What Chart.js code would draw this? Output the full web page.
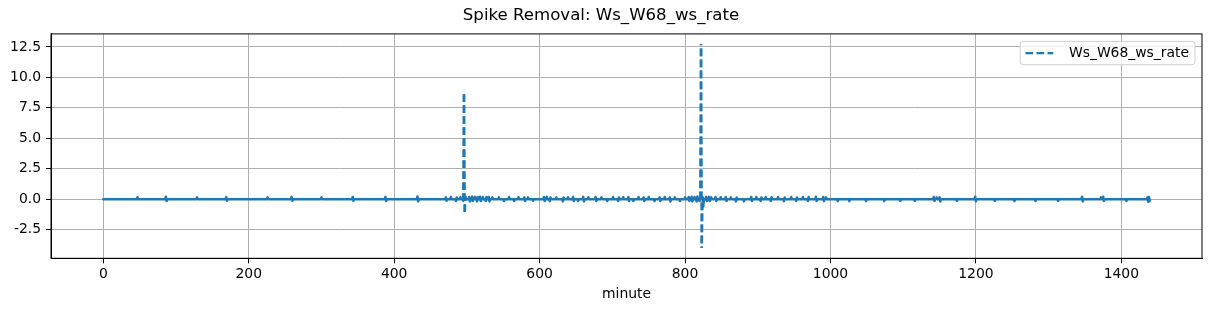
<!DOCTYPE html>
<html>
<head>
<meta charset="utf-8">
<script src="https://cdn.jsdelivr.net/npm/chart.js@4/dist/chart.umd.min.js"></script>
<style>
  html, body { margin: 0; padding: 0; background: #fff; }
  #wrap { width: 1211px; height: 311px; }
</style>
</head>
<body>
<div id="wrap"><canvas id="chart" width="1211" height="311"></canvas></div>
<script>
// series: one sample per minute, 0 except where listed
const seriesLabel = 'Ws_W68_ws_rate';
const minuteCount = 1440;

const blipMinutes = [
  47, 86, 87, 129, 169, 170, 226, 259, 260, 300, 343, 344, 388, 389, 432, 433,
  471, 472, 478, 485, 486, 491, 495, 496, 497, 498,
  503, 504, 507, 508, 511, 514, 515, 518, 519, 522, 526, 527, 530, 531, 535,
  544, 551, 558, 565, 571, 579, 580, 584, 591, 606, 607, 610, 614, 615, 623,
  632, 633, 639, 646, 647, 653, 660, 661, 667, 677, 678, 685, 693, 701, 708, 709,
  715, 722, 723, 729, 736, 743, 744, 750, 758, 765, 766, 772, 779, 780, 786, 793,
  800, 805, 806, 809, 810, 813, 816, 817, 820, 822, 823, 824, 825,
  829, 830, 833, 834, 836, 842, 843, 849, 856, 857, 863, 870, 871, 881, 891, 892,
  898, 904, 905, 911, 918, 919, 928, 936, 937, 946, 953, 954, 962, 969, 970,
  980, 981, 990, 991, 994,
  1010, 1026, 1049, 1074, 1096, 1116, 1142, 1143, 1146, 1150, 1151, 1174,
  1199, 1200, 1226, 1253, 1282, 1313, 1346, 1347, 1372, 1375, 1376, 1407,
  1436, 1437, 1438, 1439
];
const blipValues = [
  0.16, 0.2, -0.15, 0.15, 0.18, -0.13, 0.15, 0.19, -0.12, 0.15, 0.18, -0.12, 0.19, -0.15, 0.22, -0.18,
  0.15, -0.12, 0.18, -0.15, 0.15, 0.18, -0.15, 8.72, -1.15, 0.2,
  0.18, -0.18, 0.22, -0.15, 0.19, -0.18, 0.18, 0.2, -0.15, 0.18, -0.15, 0.19, 0.18, -0.18, 0.15,
  0.15, -0.15, 0.18, -0.15, 0.16, 0.15, -0.15, 0.15, -0.13, 0.18, -0.15, 0.19, -0.16, 0.15, 0.15,
  -0.18, 0.15, 0.16, 0.18, -0.15, -0.15, 0.19, -0.18, 0.16, 0.18, -0.15, 0.15, -0.15, 0.18, -0.15, 0.15,
  0.16, 0.18, -0.15, -0.15, 0.18, 0.15, -0.15, 0.18, -0.16, 0.15, -0.15, 0.18, 0.15, -0.18, 0.15, -0.15,
  0.15, 0.18, -0.15, 0.2, -0.18, 0.18, -0.18, 0.22, -0.15, 12.73, -4.01, 0.18, -0.6,
  0.18, -0.15, 0.19, -0.15, 0.15, 0.18, -0.15, 0.16, 0.18, -0.15, 0.15, -0.18, 0.15, -0.18, 0.18, -0.15,
  0.18, -0.15, 0.15, 0.18, -0.15, 0.16, 0.18, -0.16, 0.15, 0.18, -0.15, 0.15, 0.18, -0.15, 0.18,
  0.19, -0.15, 0.18, -0.16, 0.15,
  -0.16, -0.16, -0.16, -0.16, -0.14, -0.14, 0.18, -0.15, 0.15, 0.15, -0.18, -0.14,
  0.2, -0.18, -0.14, -0.16, -0.14, -0.14, 0.19, -0.18, 0.15, 0.2, -0.15, -0.14,
  0.15, -0.22, 0.18, -0.15
];

const xTicks = [0, 200, 400, 600, 800, 1000, 1200, 1400];
const yTicks = [-2.5, 0, 2.5, 5, 7.5, 10, 12.5];

const minutes = [];
const values = [];
for (let m = 0; m < minuteCount; m++) {
  minutes.push(m);
  const k = blipMinutes.indexOf(m);
  values.push(k >= 0 ? blipValues[k] : 0);
}

const lineColor = '#1f77b4';
const dashOn = 7.7, dashOff = 3.3, dashPeriod = dashOn + dashOff;
const dash = [dashOn, dashOff];
const fontFamily = '"DejaVu Sans", sans-serif';

Chart.defaults.font.family = fontFamily;
Chart.defaults.color = '#000';

const isSpike = (a, b) => Math.abs(b - a) > 1;

// a spike goes up and comes back down over itself; shift the dash of each
// leg so its dashes land on those of the previous leg and gaps stay visible
function spikeDashOffset(c) {
  const pts = c.chart.getDatasetMeta(c.datasetIndex).data;
  let start = c.p0DataIndex;
  while (start > 0 && isSpike(values[start - 1], values[start])) start--;
  let off = 0;
  for (let k = start; k < c.p0DataIndex; k++) {
    const len = Math.hypot(pts[k + 1].x - pts[k].x, pts[k + 1].y - pts[k].y);
    off = dashOn - off - len;
  }
  return ((off % dashPeriod) + dashPeriod) % dashPeriod;
}

// top and right spines
const frame = {
  id: 'frame',
  afterDatasetsDraw(chart) {
    const { ctx, chartArea: a } = chart;
    ctx.save();
    ctx.strokeStyle = '#000';
    ctx.lineWidth = 1;
    ctx.strokeRect(a.left, a.top, a.right - a.left, a.bottom - a.top);
    ctx.restore();
  }
};

// matplotlib-like legend box in the upper right of the axes
const legendBox = {
  id: 'legendBox',
  afterDraw(chart) {
    const { ctx, chartArea } = chart;
    const label = chart.data.datasets[0].label;
    ctx.save();
    ctx.font = '13.9px ' + fontFamily;
    const textW = ctx.measureText(label).width;
    const h = 23.3;
    const w = 5.3 + 27.8 + 15.7 + textW + 6;
    const right = chartArea.right - 7;
    const top = chartArea.top + 7.5;
    const left = right - w;
    ctx.beginPath();
    ctx.roundRect(left, top, w, h, 3);
    ctx.fillStyle = 'rgba(255,255,255,0.8)';
    ctx.fill();
    ctx.strokeStyle = '#d0d0d0';
    ctx.lineWidth = 1;
    ctx.stroke();
    const cy = top + h / 2;
    ctx.beginPath();
    ctx.setLineDash(dash);
    ctx.strokeStyle = lineColor;
    ctx.lineWidth = 2.2;
    ctx.moveTo(left + 5.3, cy);
    ctx.lineTo(left + 5.3 + 27.8, cy);
    ctx.stroke();
    ctx.setLineDash([]);
    ctx.fillStyle = '#000';
    ctx.textBaseline = 'middle';
    ctx.textAlign = 'left';
    ctx.fillText(label, left + 5.3 + 27.8 + 15.7, cy);
    ctx.restore();
  }
};

const ctx = document.getElementById('chart').getContext('2d');
new Chart(ctx, {
  type: 'line',
  data: {
    datasets: [{
      label: seriesLabel,
      data: minutes.map((m, i) => ({ x: m, y: values[i] })),
      borderColor: lineColor,
      borderWidth: 2.5,
      borderDash: dash,
      borderJoinStyle: 'round',
      pointRadius: 0,
      tension: 0,
      fill: false,
      segment: {
        borderDash: c => isSpike(c.p0.parsed.y, c.p1.parsed.y) ? dash : [],
        borderDashOffset: c => isSpike(c.p0.parsed.y, c.p1.parsed.y) ? spikeDashOffset(c) : 0,
        borderCapStyle: c => isSpike(c.p0.parsed.y, c.p1.parsed.y) ? 'butt' : 'round'
      }
    }]
  },
  options: {
    responsive: false,
    animation: false,
    devicePixelRatio: 1,
    layout: { padding: { left: 0, right: 9, top: 0, bottom: 0 } },
    plugins: {
      legend: { display: false },
      tooltip: { enabled: false },
      title: {
        display: true,
        text: 'Spike Removal: ' + seriesLabel,
        color: '#000',
        font: { size: 16.6, weight: 'normal' },
        padding: { top: 6, bottom: 8 }
      }
    },
    scales: {
      x: {
        type: 'linear',
        min: -71.95,
        max: 1510.95,
        afterBuildTicks: s => { s.ticks = xTicks.map(v => ({ value: v })); },
        afterFit: s => { s.height = 52.7; },
        ticks: {
          autoSkip: false,
          maxRotation: 0,
          padding: 3,
          color: '#000',
          font: { size: 13.9 },
          callback: v => String(v)
        },
        grid: {
          color: '#b0b0b0',
          lineWidth: 1,
          tickColor: '#000',
          tickLength: 5,
          tickWidth: 1
        },
        border: { display: true, color: '#000', width: 1 },
        title: {
          display: true,
          text: 'minute',
          color: '#000',
          font: { size: 13.9 },
          padding: { top: 0, bottom: 8.7 }
        }
      },
      y: {
        type: 'linear',
        min: -4.85,
        max: 13.57,
        afterBuildTicks: s => { s.ticks = yTicks.map(v => ({ value: v })); },
        afterFit: s => { s.width = 51; },
        ticks: {
          padding: 5,
          color: '#000',
          font: { size: 13.9 },
          callback: v => v.toFixed(1)
        },
        grid: {
          color: '#b0b0b0',
          lineWidth: 1,
          tickColor: '#000',
          tickLength: 5,
          tickWidth: 1
        },
        border: { display: true, color: '#000', width: 1 }
      }
    }
  },
  plugins: [frame, legendBox]
});
</script>
</body>
</html>
